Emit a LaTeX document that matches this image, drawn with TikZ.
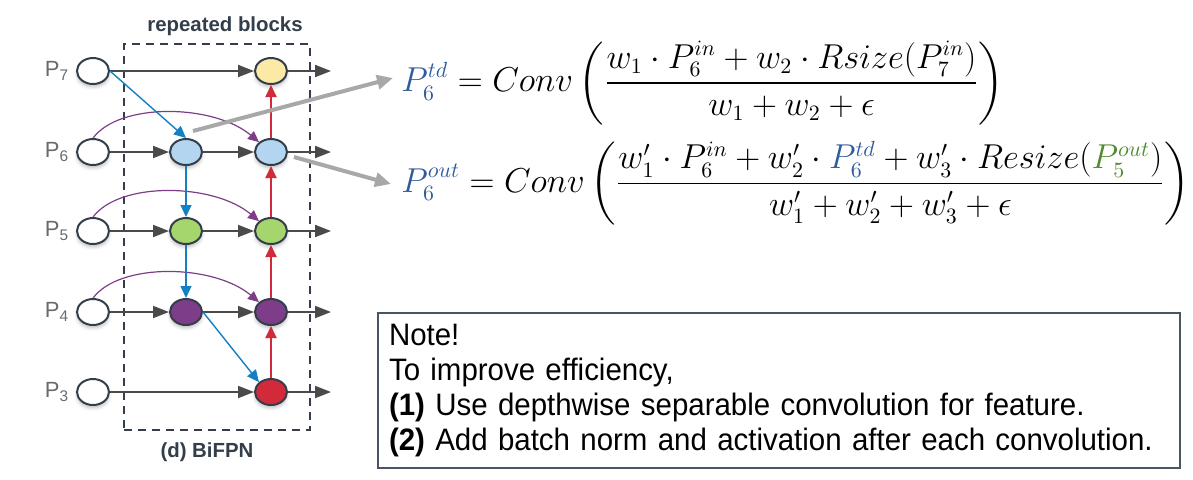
\documentclass[tikz,border=0pt]{standalone}
\usepackage{fontspec}
\usepackage{amsmath}
\usetikzlibrary{arrows.meta,positioning,shapes.geometric,shadows.blur}
\setsansfont{Liberation Sans}
\newfontfamily\notefont[FakeStretch=0.95]{Liberation Sans}
\definecolor{edge}{HTML}{343E4A}
\definecolor{flowgray}{HTML}{4A4A4A}
\definecolor{tdblue}{HTML}{1480C4}
\definecolor{bured}{HTML}{D22A3A}
\definecolor{skippurple}{HTML}{7E3D89}
\definecolor{ptgray}{HTML}{A8A8A8}
\definecolor{lblgray}{HTML}{6A6A6A}
\definecolor{cyellow}{HTML}{FDE9A6}
\definecolor{cblue}{HTML}{B3D5EF}
\definecolor{cgreen}{HTML}{A5D66E}
\definecolor{pblue}{HTML}{2E5C9E}
\definecolor{pgreen}{HTML}{4E8A2E}
\definecolor{boxline}{HTML}{4A5563}

\begin{document}
\begin{tikzpicture}[x=0.5pt, y=-0.5pt,
    lvl/.style={ellipse, draw=edge, line width=1pt, minimum width=16pt,
                minimum height=13pt, inner sep=0pt,
                blur shadow={shadow xshift=0pt, shadow yshift=-1.5pt,
                             shadow opacity=25}},
    inp/.style={lvl, fill=white},
    plain/.style={-{Triangle[length=8pt,width=6pt]}, draw=flowgray, line width=0.9pt},
    down/.style={-{Triangle[length=6pt,width=5.5pt]}, draw=tdblue, line width=0.7pt},
    up/.style={-{Triangle[length=6pt,width=5.5pt]}, draw=bured, line width=1pt},
    skip/.style={-{Triangle[length=5.5pt,width=5pt]}, draw=skippurple, line width=0.6pt},
    pointer/.style={-{Triangle[length=8pt,width=7pt]}, draw=ptgray, line width=2pt},
    plbl/.style={font=\sffamily\fontsize{11}{13}\selectfont, text=lblgray},
    ttl/.style={font=\sffamily\bfseries\fontsize{10.2}{12}\selectfont, text=edge},
    eqn/.style={font=\fontsize{16}{19}\selectfont, inner sep=0pt},
    notebox/.style={draw=boxline, line width=0.8pt, minimum width=401pt,
                    minimum height=77.5pt, text width=390pt, inner xsep=5.5pt,
                    align=left, font=\notefont\fontsize{15.5}{17.5}\selectfont}]
  \useasboundingbox (0,0) rectangle (1193,479);
  % ----- repeated block frame
  \node[draw=edge, dashed, dash pattern=on 4pt off 3pt, line width=1pt,
        minimum width=93pt, minimum height=193pt] (blk) at (217,237) {};
  \node[ttl] (rep) at (225,26) {repeated blocks};
  \node[ttl] (cap) at (207,452) {(d) BiFPN};
  % ----- input levels
  \foreach \k/\y in {7/71, 6/152, 5/231, 4/312, 3/392} {
    \node[inp] (in\k) at (93,\y) {};
    \node[plbl] (lab\k) at (57,\y) {P\textsubscript{\k}};
    \coordinate (o\k) at (331,\y);
  }
  % ----- top-down nodes
  \node[lvl, fill=cblue] (td6) at (186,152) {};
  \node[lvl, fill=cgreen] (td5) at (186,231) {};
  \node[lvl, fill=skippurple] (td4) at (186,312) {};
  % ----- output nodes
  \node[lvl, fill=cyellow] (out7) at (271,71) {};
  \node[lvl, fill=cblue] (out6) at (271,152) {};
  \node[lvl, fill=cgreen] (out5) at (271,231) {};
  \node[lvl, fill=skippurple] (out4) at (271,312) {};
  \node[lvl, fill=bured] (out3) at (271,392) {};
  % ----- plain lateral flow
  \draw[plain] (in7) -- (out7);
  \draw[plain] (in3) -- (out3);
  \foreach \k in {6,5,4} {
    \draw[plain] (in\k) -- (td\k);
    \draw[plain] (td\k) -- (out\k);
    \draw[skip] (in\k.north) .. controls +(27,-36) and +(-45,-38) .. (out\k.north west);
  }
  \foreach \k in {7,6,5,4,3}
    \draw[plain] (out\k) -- (o\k);
  % ----- top-down path
  \draw[down] (in7.east) -- (td6.north);
  \draw[down] (td6) -- (td5);
  \draw[down] (td5) -- (td4);
  \draw[down] (td4.east) -- (out3.north west);
  % ----- bottom-up path
  \draw[up] (out3) -- (out4);
  \draw[up] (out4) -- (out5);
  \draw[up] (out5) -- (out6);
  \draw[up] (out6) -- (out7);
  % ----- fusion formulas
  \node[eqn, anchor=west] (eq1) at (401,83)
    {$\displaystyle \textcolor{pblue}{P_6^{td}} = Conv\left(\frac{w_1\cdot P_6^{in}+w_2\cdot Rsize(P_7^{in})}{w_1+w_2+\epsilon}\right)$};
  \node[eqn, anchor=west] (eq2) at (401,183)
    {$\displaystyle \textcolor{pblue}{P_6^{out}} = Conv\left(\frac{w'_1\cdot P_6^{in}+w'_2\cdot \textcolor{pblue}{P_6^{td}}+w'_3\cdot Resize(\textcolor{pgreen}{P_5^{out}})}{w'_1+w'_2+w'_3+\epsilon}\right)$};
  \coordinate (g1) at (193,131);
  \draw[pointer] (g1) -- ([shift={(-8,-5)}]eq1.west);
  \draw[pointer] ([shift={(6,5)}]out6.east) -- ([shift={(-10,1)}]eq2.west);
  % ----- note
  \node[notebox] (note) at (779,390.5)
    {\hyphenpenalty=10000 Note!\\To improve efficiency,\\
     \textbf{(1)} Use depthwise separable convolution for feature.\\
     \textbf{(2)} Add batch norm and activation after each convolution.};
\end{tikzpicture}
\end{document}
